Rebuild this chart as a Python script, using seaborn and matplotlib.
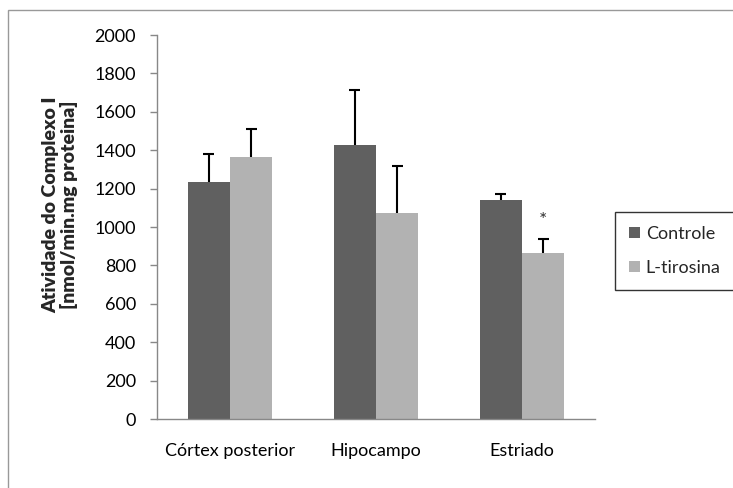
import matplotlib
matplotlib.use("Agg")
import matplotlib.pyplot as plt
import seaborn as sns
import pandas as pd
import numpy as np
from matplotlib.patches import Rectangle

regions = ["Córtex posterior", "Hipocampo", "Estriado"]
groups = ["Controle", "L-tirosina"]
controle = [1235, 1428, 1141]
tirosina = [1367, 1072, 862]
controle_err = [147, 284, 32]
tirosina_err = [146, 248, 75]
yticks = [0, 200, 400, 600, 800, 1000, 1200, 1400, 1600, 1800, 2000]
colors = ["#606060", "#b2b2b2"]

df = pd.DataFrame({
    "Região": regions * 2,
    "Grupo": [groups[0]] * 3 + [groups[1]] * 3,
    "Valor": controle + tirosina,
})
errs = {groups[0]: controle_err, groups[1]: tirosina_err}

sns.set_style("white")
plt.rcParams["font.family"] = ["Lato", "DejaVu Sans"]

fig = plt.figure(figsize=(7.33, 4.88), dpi=100)
ax = fig.add_axes([157 / 733, 1 - 419 / 488, 438 / 733, 384 / 488])

sns.barplot(data=df, x="Região", y="Valor", hue="Grupo", order=regions,
            hue_order=groups, palette=colors, width=0.58, saturation=1,
            errorbar=None, ax=ax, edgecolor="none", linewidth=0)

bar_containers = list(ax.containers)
cap = 0.038
# error bars (upper only)
for gi, cont in enumerate(bar_containers):
    g = groups[gi]
    vals = np.array(df[df["Grupo"] == g].set_index("Região").loc[regions, "Valor"].values)
    e = np.array(errs[g])
    xs = np.array([p.get_x() + p.get_width() / 2 for p in cont.patches])
    ax.vlines(xs, vals, vals + e, color="black", linewidth=1.5, zorder=3)
    ax.hlines(vals + e, xs - cap, xs + cap, color="black", linewidth=1.5, zorder=3)

# asterisk
p = bar_containers[1].patches[2]
ax.text(p.get_x() + p.get_width() / 2, tirosina[2] + tirosina_err[2] + 55, "*",
        ha="center", va="bottom", fontsize=14, color="#333333")

ax.set_ylim(0, 2000)
ax.set_xlim(-0.5, 2.5)
ax.set_yticks(yticks)
ax.set_yticklabels([str(v) for v in yticks], fontsize=13)
ax.tick_params(axis="y", direction="out", length=5, width=1, color="#888888",
               pad=10, left=True)
ax.tick_params(axis="x", length=0, pad=17, labelsize=13)
for lbl in ax.get_xticklabels() + ax.get_yticklabels():
    lbl.set_color("#000000")
ax.set_xlabel("")
ax.set_ylabel("")
for s in ["top", "right"]:
    ax.spines[s].set_visible(False)
ax.spines["left"].set_color("#888888")
ax.spines["bottom"].set_color("#888888")
ax.spines["left"].set_linewidth(1)
ax.spines["bottom"].set_linewidth(1)

fig.text(60 / 733, 1 - 205 / 488, "Atividade do Complexo I\n[nmol/min.mg proteina]",
         rotation=90, ha="center", va="center", fontsize=14, fontweight="heavy",
         linespacing=1.0)

leg = ax.legend(loc="center left", bbox_to_anchor=(615 / 733, 1 - 251 / 488),
                bbox_transform=fig.transFigure, frameon=True, fontsize=13,
                handlelength=0.6, handleheight=0.6, handletextpad=0.3,
                labelspacing=1.0, borderpad=0.8, borderaxespad=0,
                fancybox=False)
leg.get_frame().set_edgecolor("black")
leg.get_frame().set_linewidth(1)

# outer chart border
fig.patches.append(Rectangle((8 / 733, -0.1), 1.2, 1 - 10 / 488 + 0.1,
                             transform=fig.transFigure, fill=False,
                             edgecolor="#999999", linewidth=1))

fig.savefig("out.png", dpi=100)
